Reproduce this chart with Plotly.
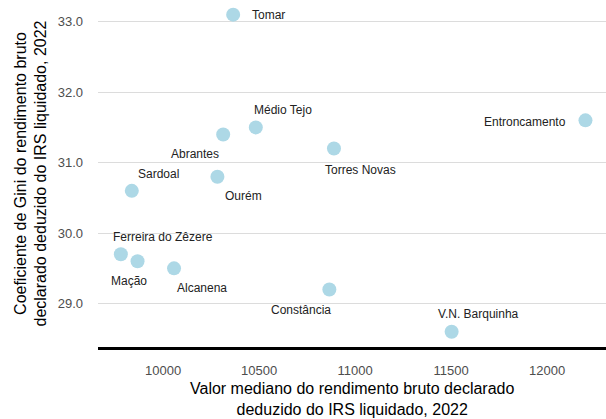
import plotly.graph_objects as go

municipios = ["Tomar", "Médio Tejo", "Abrantes", "Torres Novas", "Entroncamento", "Ourém",
              "Sardoal", "Ferreira do Zêzere", "Mação", "Alcanena", "Constância", "V.N. Barquinha"]
rendimento = [10365, 10483, 10313, 10890, 12200, 10283, 9837, 9780, 9867, 10057, 10866, 11503]
gini = [33.1, 31.5, 31.4, 31.2, 31.6, 30.8, 30.6, 29.7, 29.6, 29.5, 29.2, 28.6]

x_ticks = [10000, 10500, 11000, 11500, 12000]
y_ticks = [29.0, 30.0, 31.0, 32.0, 33.0]

# label offsets in pixels (dx, dy with dy positive = up), anchor
label_style = {
    "Tomar": (17, 0, "left"),
    "Médio Tejo": (27, 17, "center"),
    "Abrantes": (-28, -20, "center"),
    "Torres Novas": (27, -21, "center"),
    "Entroncamento": (-17, -2, "right"),
    "Ourém": (26, -19, "center"),
    "Sardoal": (27, 17, "center"),
    "Ferreira do Zêzere": (42, 17, "center"),
    "Mação": (-9, -20, "center"),
    "Alcanena": (28, -20, "center"),
    "Constância": (-28, -20, "center"),
    "V.N. Barquinha": (27, 18, "center"),
}

FONT = "Liberation Sans, Arial, sans-serif"

fig = go.Figure()
fig.add_trace(go.Scatter(
    x=rendimento, y=gini, mode="markers",
    marker=dict(color="#add8e6", size=14, line=dict(width=0)),
    hoverinfo="text", text=municipios, showlegend=False,
))

annotations = []
for name, xv, yv in zip(municipios, rendimento, gini):
    dx, dy, anc = label_style[name]
    annotations.append(dict(
        x=xv, y=yv, xref="x", yref="y", text=name, showarrow=False,
        xshift=dx, yshift=dy, xanchor=anc, yanchor="middle",
        font=dict(family=FONT, size=12, color="#222222"),
    ))

annotations.append(dict(
    x=0, y=0.5, xref="paper", yref="paper", xshift=-68, xanchor="center", yanchor="middle",
    textangle=-90, showarrow=False,
    text="Coeficiente de Gini do rendimento bruto<br>declarado deduzido do IRS liquidado, 2022",
    font=dict(family=FONT, size=16, color="#000000"),
))
annotations.append(dict(
    x=0.5, y=0, xref="paper", yref="paper", yshift=-52, xanchor="center", yanchor="middle",
    showarrow=False,
    text="Valor mediano do rendimento bruto declarado<br>deduzido do IRS liquidado, 2022",
    font=dict(family=FONT, size=16, color="#000000"),
))

fig.update_layout(
    width=606, height=419,
    margin=dict(l=98, r=0, t=0, b=72),
    paper_bgcolor="white", plot_bgcolor="white",
    font=dict(family=FONT),
    annotations=annotations,
    xaxis=dict(
        range=[9661, 12307], tickvals=x_ticks, ticktext=[str(v) for v in x_ticks],
        showgrid=False, zeroline=False, showline=True, linecolor="black", linewidth=3,
        ticks="", ticklabelstandoff=9,
        tickfont=dict(family=FONT, size=13, color="#4d4d4d"),
    ),
    yaxis=dict(
        range=[28.384, 33.308], tickvals=y_ticks, ticktext=[f"{v:.1f}" for v in y_ticks],
        showgrid=True, gridcolor="#dcdcdc", gridwidth=1, zeroline=False, showline=False,
        ticks="", ticklabelstandoff=14,
        tickfont=dict(family=FONT, size=13, color="#4d4d4d"),
    ),
)

fig.write_html(
    "out.html",
    config={"displayModeBar": False},
    post_script="document.body.style.margin='0';document.body.style.overflow='hidden';",
)
